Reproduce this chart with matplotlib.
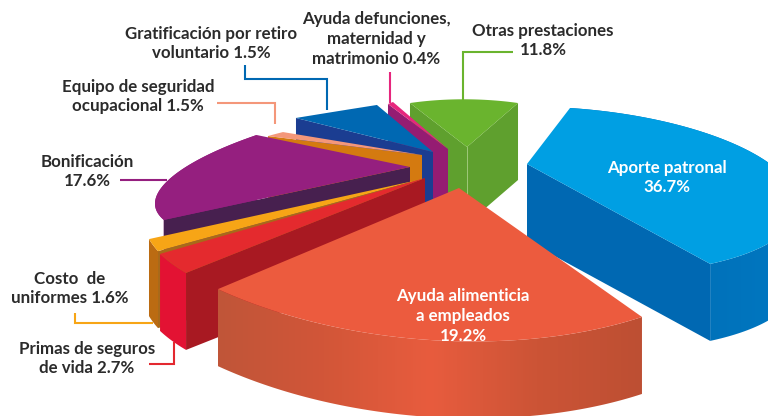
import numpy as np
import matplotlib
matplotlib.use("Agg")
import matplotlib.pyplot as plt
from matplotlib.colors import LinearSegmentedColormap
from matplotlib.patches import Polygon

# slices, clockwise
slices = ["Aporte patronal", "Ayuda alimenticia", "Primas de seguros", "Costo de uniformes",
          "Bonificación", "Equipo de seguridad", "Gratificación", "Ayuda defunciones", "Otras prestaciones"]
values = [36.7, 19.2, 2.7, 1.6, 17.6, 1.5, 1.5, 0.4, 11.8]

# hand fitted 3D layout of each slice: tip, rim centre, start angle, ellipse radii, shear
tips = [(527, 164), (459, 188), (425, 178), (418, 180), (410, 167), (422, 155), (433, 152), (448, 149), (467, 147)]
rim_centres = [(570, 190), (430, 158)] + tips[2:]
starts = [-90.0, 52.85, 145.34, 159.43, 164.9, 222.35, 260.2, 251.95, 245.82]
radii_x = [228.0, 351.0, 290.5, 277.7, 255.0, 208.4, 805.0, 193.7, 139.2]
radii_y = [82.0, 182.0, 132.9, 125.6, 67.6, 42.7, 55.7, 65.9, 47.7]
shears = [15.0, 23.0, -23.5, -28.8, -36.6, -13.3, -122.5, -57.0, 1.1]
depth = 77

top_colors = ["#009fe3", "#ec5b3e", "#e42a2e", "#f7a516", "#951f7f", "#f4977a", "#0068b2", "#e6267d", "#6ab42e"]
start_side = [None, None, "#a81922", "#a86a1a", "#47204f", "#d47a10", "#1b3d91", "#951c72", "#5fa02e"]
end_side = ["#0068b2", None, None, None, None, None, None, None, "#5fa02e"]
# rim colours, left to right
rim_side = [["#0068b2", "#0070b8", "#0078c2"], ["#c05539", "#d25638", "#e85c3e", "#cc5436", "#bd4f33"],
            ["#e31233"], ["#bb6b12"], ["#951f7f"], None, None, None, None]
draw_order = [0, 8, 7, 6, 5, 4, 3, 2, 1]

labels = [
    ("Aporte patronal\n36.7%", 667, 177.5, "white"),
    ("Ayuda alimenticia\na empleados\n19.2%", 463, 316, "white"),
    ("Primas de seguros\nde vida 2.7%", 87, 358.5, "#2b2b2b"),
    ("Costo  de\nuniformes 1.6%", 70, 288.5, "#2b2b2b"),
    ("Bonificación\n17.6%", 87, 171.5, "#2b2b2b"),
    ("Equipo de seguridad\nocupacional 1.5%", 138, 96.5, "#2b2b2b"),
    ("Gratificación por retiro\nvoluntario 1.5%", 211, 43.5, "#2b2b2b"),
    ("Ayuda defunciones,\nmaternidad y\nmatrimonio 0.4%", 376, 39, "#2b2b2b"),
    ("Otras prestaciones\n11.8%", 543, 40.5, "#2b2b2b"),
]
leaders = [
    ([149, 174, 174], [364, 364, 342], "#e3282f"),
    ([75, 75, 153], [313, 323, 323], "#f7a516"),
    ([120, 167], [180, 180], "#951f7f"),
    ([217, 275, 275], [103, 103, 124], "#f4977a"),
    ([245, 245, 327, 327], [65, 79, 79, 110], "#0068b2"),
    ([390, 390], [72, 103], "#e6267d"),
    ([513, 463, 463], [52, 52, 101], "#6ab42e"),
]


def rim(i, n=120):
    """Outer edge of slice i, the sweep comes from its share of the total."""
    sweep = values[i] / sum(values) * 360
    th = np.radians(starts[i] + np.linspace(0, sweep, n))
    x = rim_centres[i][0] + radii_x[i] * np.cos(th)
    y = rim_centres[i][1] + radii_y[i] * np.sin(th) + shears[i] * np.cos(th)
    return x, y


def radial_side(ax, i, x, y, color, z):
    cx, cy = tips[i]
    ax.fill([cx, x, x, cx], [cy, y, y + depth, cy + depth], color=color, lw=0, zorder=z)


def draw_rim_side(ax, i, x, y, z):
    stops = rim_side[i]
    px = np.r_[x, x[::-1]]
    py = np.r_[y, y[::-1] + depth]
    if len(stops) == 1:
        ax.fill(px, py, color=stops[0], lw=0, zorder=z)
        return
    cmap = LinearSegmentedColormap.from_list("rim", stops)
    im = ax.imshow(np.linspace(0, 1, 256)[None, :], cmap=cmap, aspect="auto", zorder=z,
                   extent=(x.min(), x.max(), py.max(), py.min()))
    clip = Polygon(np.c_[px, py], closed=True, transform=ax.transData)
    im.set_clip_path(clip)


fig = plt.figure(figsize=(7.68, 4.16), dpi=100)
ax = fig.add_axes([0, 0, 1, 1])

for z, i in enumerate(draw_order, start=1):
    x, y = rim(i)
    if rim_side[i]:
        draw_rim_side(ax, i, x, y, z)
    if start_side[i]:
        radial_side(ax, i, x[0], y[0], start_side[i], z)
    if end_side[i]:
        radial_side(ax, i, x[-1], y[-1], end_side[i], z)
    if start_side[i] and end_side[i]:
        ax.plot([tips[i][0]] * 2, [tips[i][1], tips[i][1] + depth], color="#a9cf86", lw=0.6, zorder=z)
    ax.fill(np.r_[tips[i][0], x], np.r_[tips[i][1], y], color=top_colors[i], lw=0, zorder=z)

for xs, ys, col in leaders:
    ax.plot(xs, ys, color=col, lw=1.5, solid_joinstyle="miter", solid_capstyle="butt", zorder=20)

for text, x, y, col in labels:
    ax.text(x, y, text, ha="center", va="center", color=col, fontsize=12.2, fontweight="bold",
            family="Lato", linespacing=1.28, zorder=21)

ax.set_xlim(0, 768)
ax.set_ylim(416, 0)
ax.axis("off")

fig.savefig("out.png", dpi=100)
